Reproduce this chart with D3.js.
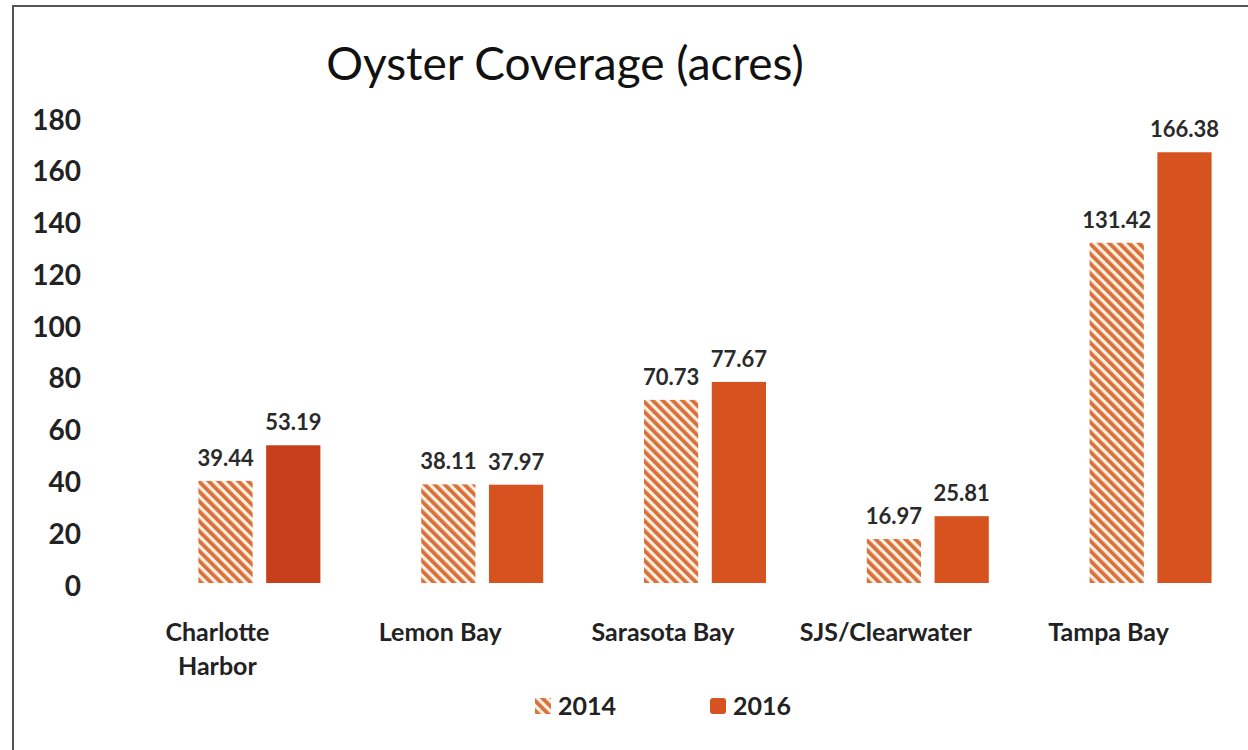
<!DOCTYPE html>
<html>
<head>
<meta charset="utf-8">
<script src="https://cdn.jsdelivr.net/npm/d3@7"></script>
<style>
  body { margin: 0; background: #fff; }
  svg { display: block; font-family: Lato, "Open Sans", sans-serif; }
</style>
</head>
<body>
<svg id="chart" width="1248" height="750"></svg>
<script>
var categories = ["Charlotte Harbor", "Lemon Bay", "Sarasota Bay", "SJS/Clearwater", "Tampa Bay"]
var labelLines = [["Charlotte", "Harbor"], ["Lemon Bay"], ["Sarasota Bay"], ["SJS/Clearwater"], ["Tampa Bay"]]
var values2014 = [39.44, 38.11, 70.73, 16.97, 131.42]
var values2016 = [53.19, 37.97, 77.67, 25.81, 166.38]
var series = ["2014", "2016"]
var yTicks = [0, 20, 40, 60, 80, 100, 120, 140, 160, 180]

var svg = d3.select("#chart")

// frame of the scanned figure
svg.append("path")
  .attr("d", "M13,760 L13,6 L1260,6")
  .attr("fill", "none")
  .attr("stroke", "#555")
  .attr("stroke-width", 2)

// hatch for 2014
var defs = svg.append("defs")
var pat = defs.append("pattern")
  .attr("id", "hatch")
  .attr("patternUnits", "userSpaceOnUse")
  .attr("width", 7).attr("height", 7)
  .attr("patternTransform", "rotate(-45)")
pat.append("rect").attr("width", 7).attr("height", 7).attr("fill", "#fcefdf")
pat.append("rect").attr("width", 3.8).attr("height", 7).attr("fill", "#d9703c")

var x = d3.scaleBand()
  .domain(categories)
  .range([148, 1262])

var x1 = d3.scaleBand()
  .domain(series)
  .range([-61, 61])
  .paddingInner(0.2)

var y = d3.scaleLinear()
  .domain([0, 180])
  .range([583, 117])

svg.append("text")
  .attr("x", 565).attr("y", 80)
  .attr("text-anchor", "middle")
  .attr("font-size", 46)
  .attr("fill", "#111")
  .text("Oyster Coverage (acres)")

// y axis labels only
var yAxis = svg.append("g")
  .attr("transform", "translate(81,2)")
  .call(d3.axisLeft(y).tickValues(yTicks).tickSize(0).tickPadding(0))
yAxis.select(".domain").remove()
yAxis.selectAll("text")
  .attr("font-size", 28)
  .attr("font-weight", "bold")
  .attr("fill", "#222")
  .attr("font-family", "Lato, sans-serif")
  .attr("dy", "0.36em")

var rows = categories.map((c, i) => ({cat: c, v: [values2014[i], values2016[i]]}))

var groups = svg.selectAll(".grp")
  .data(rows)
  .enter()
  .append("g")
  .attr("class", "grp")
  .attr("transform", d => "translate(" + (x(d.cat) + x.bandwidth() / 2) + ",0)")

var barColor = (d, i) => i == 0 ? "url(#hatch)" : (d.cat == "Charlotte Harbor" ? "#c63e1a" : "#d6531f")

groups.selectAll("rect")
  .data(d => d.v.map((v, i) => ({cat: d.cat, s: series[i], v: v})))
  .enter()
  .append("rect")
  .attr("x", d => x1(d.s))
  .attr("width", x1.bandwidth())
  .attr("y", d => y(d.v))
  .attr("height", d => y(0) - y(d.v))
  .attr("fill", (d, i) => barColor(d, i))

groups.selectAll(".val")
  .data(d => d.v.map((v, i) => ({cat: d.cat, s: series[i], v: v})))
  .enter()
  .append("text")
  .attr("class", "val")
  .attr("x", d => x1(d.s) + x1.bandwidth() / 2)
  .attr("y", d => y(d.v) - 15)
  .attr("text-anchor", "middle")
  .attr("font-size", 22)
  .attr("font-weight", "bold")
  .attr("fill", "#2a2a2a")
  .text(d => d.v.toFixed(2))

// category labels sit a bit left of the bar pairs in the scan
svg.selectAll(".cat")
  .data(categories)
  .enter()
  .append("text")
  .attr("class", "cat")
  .attr("x", d => x(d) + x.bandwidth() / 2 - 42)
  .attr("y", 641)
  .attr("text-anchor", "middle")
  .attr("font-size", 25)
  .attr("font-weight", "bold")
  .attr("fill", "#222")
  .selectAll("tspan")
  .data((d, i) => labelLines[i])
  .enter()
  .append("tspan")
  .attr("x", function() { return d3.select(this.parentNode).attr("x") })
  .attr("dy", (d, i) => i == 0 ? 0 : 34)
  .text(d => d)

// legend
var legend = svg.append("g")
var legX = [535, 710]
series.forEach((s, i) => {
  legend.append("rect")
    .attr("x", legX[i]).attr("y", 698)
    .attr("width", 16).attr("height", 16)
    .attr("rx", i == 1 ? 3 : 0)
    .attr("fill", i == 0 ? "url(#hatch)" : "#d6531f")
  legend.append("text")
    .attr("x", legX[i] + 23).attr("y", 715)
    .attr("font-size", 25)
    .attr("font-weight", "bold")
    .attr("fill", "#222")
    .text(s)
})
</script>
</body>
</html>
